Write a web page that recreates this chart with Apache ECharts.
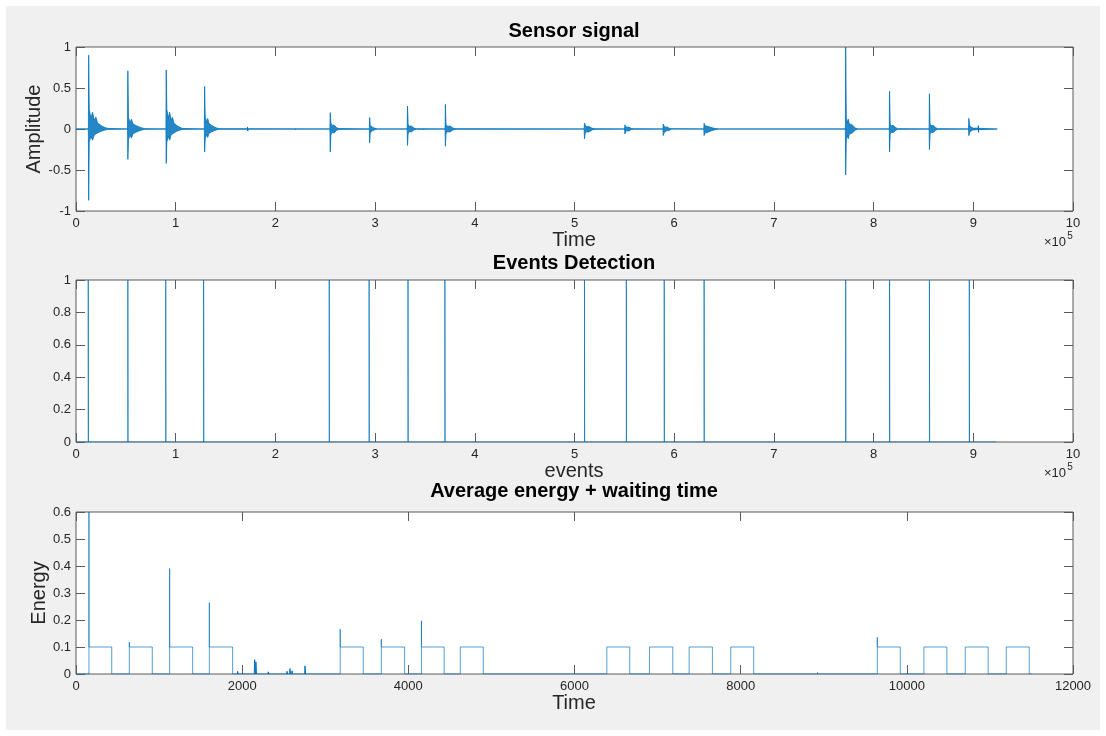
<!DOCTYPE html>
<html>
<head>
<meta charset="utf-8">
<title>Sensor signal</title>
<script src="https://cdn.jsdelivr.net/npm/echarts@6/dist/echarts.min.js"></script>
<style>
  html, body { margin: 0; padding: 0; background: #fff; }
  #bg { position: absolute; left: 6px; top: 6px; width: 1094px; height: 724px; background: #f0f0f0; }
  #main { position: absolute; left: 0; top: 0; width: 1106px; height: 736px; }
</style>
</head>
<body>
<div id="bg"></div>
<div id="main"></div>
<script>
// ---- sensor signal (top): one burst per event ----
const burstStart = [12700, 52000, 90500, 129000, 255000, 294500, 332500, 370500,
                    510000, 550500, 589000, 630000, 772000, 816000, 856000, 895500]
const peakUp = [0.90, 0.71, 0.72, 0.52, 0.20, 0.14, 0.28, 0.30,
                0.07, 0.05, 0.06, 0.07, 1.00, 0.46, 0.43, 0.13]
const peakDown = [-0.87, -0.37, -0.42, -0.28, -0.28, -0.17, -0.20, -0.21,
                  -0.12, -0.06, -0.08, -0.08, -0.56, -0.28, -0.25, -0.08]
const bodyUp = [0.24, 0.14, 0.24, 0.15, 0.08, 0.05, 0.06, 0.06,
                0.05, 0.04, 0.04, 0.04, 0.14, 0.07, 0.07, 0.06]
const bodyDown = [-0.16, -0.13, -0.16, -0.12, -0.08, -0.05, -0.06, -0.06,
                  -0.06, -0.04, -0.05, -0.05, -0.14, -0.07, -0.07, -0.06]
const tailLen = [20000, 18000, 17000, 15000, 10000, 8000, 10000, 12000,
                 12000, 10000, 10000, 15000, 12000, 10000, 10000, 6000]
// how the envelope of the first burst falls off along its tail (ragged, as seen)
const decayShape = [1, 0.55, 0.85, 0.45, 0.6, 0.3, 0.35, 0.18, 0.2, 0.09, 0.06, 0.03]
// small isolated blips
const blipX = [172000, 205000, 220000, 348000, 905000]
const blipAmp = [0.025, 0.006, 0.01, 0.01, 0.04]
const signalEnd = 924000

// ---- events detection (middle) ----
const detectX = [12300, 52000, 90000, 128000, 254000, 294000, 333000, 370000,
                 510000, 552000, 590000, 630000, 772000, 816000, 856000, 896000]
const detectEnd = 923000

// ---- average energy + waiting time (bottom) ----
const pulseStart = [156, 642, 1127, 1605, 3180, 3675, 4158, 4625,
                    6389, 6903, 7380, 7881, 9645, 10206, 10703, 11197]
const pulseEnd = [430, 918, 1404, 1885, 3457, 3955, 4431, 4902,
                  6665, 7183, 7660, 8157, 9921, 10482, 10979, 11473]
const pulsePeak = [0.6, 0.118, 0.391, 0.264, 0.166, 0.129, 0.197, 0.1,
                   0.1, 0.1, 0.1, 0.1, 0.136, 0.1, 0.1, 0.1]
const pulseLevel = 0.1
const energyBlipX = [1945, 2150, 2165, 2314, 2540, 2575, 2600, 2756, 8926]
const energyBlipY = [0.01, 0.053, 0.045, 0.008, 0.01, 0.02, 0.012, 0.03, 0.006]
const energyEnd = 11500

// tick labels
const ampTicks = [-1, -0.5, 0, 0.5, 1]
const detTicks = [0, 0.2, 0.4, 0.6, 0.8, 1]
const energyTicks = [0, 0.1, 0.2, 0.3, 0.4, 0.5, 0.6]
const xTicks = [0, 100000, 200000, 300000, 400000, 500000, 600000, 700000, 800000, 900000, 1000000]
const timeTicks = [0, 2000, 4000, 6000, 8000, 10000, 12000]

const blue = '#0072BD'
const axisColor = '#5a5a5a'
const labelColor = '#262626'
const font = '"Liberation Sans", Arial, Helvetica, sans-serif'

// envelope of the bursts (upper or lower side)
function envelope(peak, body) {
    const pts = [[0, 0]]
    burstStart.forEach((s, i) => {
        pts.push([s - 300, 0], [s, peak[i]])
        decayShape.forEach((d, k) => {
            pts.push([s + 600 + tailLen[i] * k / decayShape.length, body[i] * d])
        })
        pts.push([s + 600 + tailLen[i], 0])
    })
    pts.push([signalEnd, 0])
    return pts
}

function blips() {
    const pts = []
    blipX.forEach((x, i) => {
        pts.push([x, 0], [x, blipAmp[i]], [x + 300, -blipAmp[i]], [x + 300, 0], null)
    })
    return pts
}

function detections() {
    const pts = [[0, 0]]
    detectX.forEach(x => {
        pts.push([x, 0], [x, 1], [x + 200, 1], [x + 200, 0])
    })
    pts.push([detectEnd, 0])
    return pts
}

function pulses() {
    const pts = [[0, 0]]
    pulseStart.forEach((s, i) => {
        pts.push([s, 0], [s, pulsePeak[i]], [s, pulseLevel], [pulseEnd[i], pulseLevel], [pulseEnd[i], 0])
    })
    pts.push([energyEnd, 0])
    return pts
}

function energyBlips() {
    const pts = []
    energyBlipX.forEach((x, i) => {
        pts.push([x - 4, 0], [x, energyBlipY[i]], [x + 8, 0], null)
    })
    return pts
}

function xAxes(g, ticks, fmt) {
    const min = ticks[0], max = ticks[ticks.length - 1], interval = ticks[1] - ticks[0]
    const base = {
        gridIndex: g, type: 'value', min, max, interval,
        axisLine: { show: false, onZero: false },
        axisTick: { inside: true, length: 9, lineStyle: { color: axisColor } },
        splitLine: { show: false }
    }
    return [
        Object.assign({}, base, {
            position: 'bottom',
            axisLabel: { color: labelColor, fontSize: 13, fontFamily: font, margin: 6, formatter: fmt }
        }),
        Object.assign({}, base, { position: 'top', axisLabel: { show: false } })
    ]
}

function yAxes(g, ticks) {
    const min = ticks[0], max = ticks[ticks.length - 1]
    const interval = Math.round((ticks[1] - ticks[0]) * 100) / 100
    const base = {
        gridIndex: g, type: 'value', min, max, interval,
        axisLine: { show: false, onZero: false },
        axisTick: { inside: true, length: 9, lineStyle: { color: axisColor } },
        splitLine: { show: false }
    }
    return [
        Object.assign({}, base, {
            position: 'left',
            axisLabel: { color: labelColor, fontSize: 13, fontFamily: font, margin: 5 }
        }),
        Object.assign({}, base, { position: 'right', axisLabel: { show: false } })
    ]
}

function text(str, x, y, size, bold, rot) {
    return {
        type: 'text', x, y, rotation: rot || 0, silent: true,
        style: {
            text: str, fill: bold ? '#000' : labelColor,
            font: (bold ? 'bold ' : '') + size + 'px ' + font,
            align: 'center', verticalAlign: 'middle',
            textAlign: 'center', textVerticalAlign: 'middle'
        }
    }
}

let myChart = echarts.init(document.querySelector('#main'), null, { renderer: 'canvas' })

const gridStyle = { show: true, backgroundColor: '#fff', borderColor: axisColor, borderWidth: 1 }

const lineBase = { type: 'line', showSymbol: false, symbol: 'none', animation: false, silent: true }

const option = {
    animation: false,
    grid: [
        Object.assign({ left: 76, top: 47, width: 997, height: 164 }, gridStyle),
        Object.assign({ left: 76, top: 280, width: 997, height: 162 }, gridStyle),
        Object.assign({ left: 76, top: 512, width: 997, height: 162 }, gridStyle)
    ],
    xAxis: [
        ...xAxes(0, xTicks, v => String(v / 100000)),
        ...xAxes(1, xTicks, v => String(v / 100000)),
        ...xAxes(2, timeTicks, v => String(v))
    ],
    yAxis: [
        ...yAxes(0, ampTicks),
        ...yAxes(1, detTicks),
        ...yAxes(2, energyTicks)
    ],
    series: [
        Object.assign({}, lineBase, {
            xAxisIndex: 0, yAxisIndex: 0, data: envelope(peakUp, bodyUp),
            lineStyle: { color: blue, width: 0.8 }, areaStyle: { color: blue, opacity: 0.85 }
        }),
        Object.assign({}, lineBase, {
            xAxisIndex: 0, yAxisIndex: 0, data: envelope(peakDown, bodyDown),
            lineStyle: { color: blue, width: 0.8 }, areaStyle: { color: blue, opacity: 0.85 }
        }),
        Object.assign({}, lineBase, {
            xAxisIndex: 0, yAxisIndex: 0, data: blips(), connectNulls: false,
            lineStyle: { color: blue, width: 1 }
        }),
        Object.assign({}, lineBase, {
            xAxisIndex: 2, yAxisIndex: 2, data: detections(),
            lineStyle: { color: blue, width: 0.9, opacity: 0.8 }
        }),
        Object.assign({}, lineBase, {
            xAxisIndex: 4, yAxisIndex: 4, data: pulses(),
            lineStyle: { color: blue, width: 0.9, opacity: 0.75 }
        }),
        Object.assign({}, lineBase, {
            xAxisIndex: 4, yAxisIndex: 4, data: energyBlips(), connectNulls: false,
            lineStyle: { color: blue, width: 1 }
        })
    ],
    graphic: [
        text('Sensor signal', 574, 31, 20, true),
        text('Events Detection', 574, 263, 20, true),
        text('Average energy + waiting time', 574, 491, 20, true),
        text('Time', 574, 240, 20),
        text('events', 574, 471, 20),
        text('Time', 574, 703, 20),
        text('Amplitude', 34, 129, 20, false, Math.PI / 2),
        text('Energy', 39, 593, 20, false, Math.PI / 2),
        text('\u00d710', 1055, 242, 13),
        text('5', 1070, 236, 10),
        text('\u00d710', 1055, 473, 13),
        text('5', 1070, 467, 10)
    ]
}

myChart.setOption(option)
</script>
</body>
</html>
